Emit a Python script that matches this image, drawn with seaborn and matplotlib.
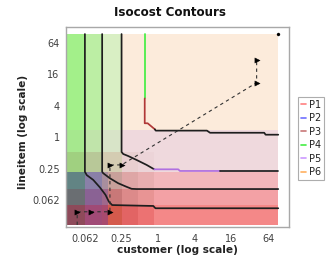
import numpy as np
import matplotlib
matplotlib.use("Agg")
import matplotlib.pyplot as plt
import seaborn as sns
from matplotlib.lines import Line2D
from matplotlib.colors import to_rgb

# ---------------- data ----------------
plans = ["P1", "P2", "P3", "P4", "P5", "P6"]
plan_colors = ["#FF8080", "#6F6FFF", "#C87878", "#44EE44", "#CC99FF", "#FFB060"]

tick_vals = [0.0625, 0.25, 1, 4, 16, 64]
tick_labels = ["0.062", "0.25", "1", "4", "16", "64"]

# background grid (cell edges in data units)
x_edges = [0.0317, 0.0625, 0.12, 0.15, 0.25, 0.46, 0.85, 93.5]
y_edges = [0.0213, 0.051, 0.103, 0.218, 0.525, 1.38, 93.0]
# rows bottom -> top, columns left -> right
cell_colors = [
    ["#8E4A5A", "#A04A76", "#A84A6E", "#D45A4C", "#E26464", "#EC7272", "#F48888"],
    ["#6A6E72", "#8A6294", "#A0688C", "#C87878", "#DC8A8A", "#E89494", "#F3A1A5"],
    ["#628484", "#8A80A8", "#A88E9E", "#C8A09A", "#DEA6A6", "#E8AEB0", "#F2B7BB"],
    ["#A0D080", "#B8C898", "#D4CCB2", "#D4CCB2", "#E8CFD0", "#ECD4D8", "#EFD9DD"],
    ["#A6E88E", "#C0E4AA", "#D8E4C8", "#D8E4C8", "#EFD9DD", "#EFD9DD", "#EFD9DD"],
    ["#A3F08A", "#BCEEA4", "#D9EFC4", "#D9EFC4", "#FCEBDB", "#FCEBDB", "#FCEBDB"],
]

# isocost contours (segments: x, y, colour key)
cA_green_x = [0.60, 0.60]
cA_green_y = [93, 5.5]
cA_red_x = [0.60, 0.60, 0.67, 0.88]
cA_red_y = [5.5, 1.85, 1.85, 1.42]
cA_x = [0.88, 0.91, 6.3, 7.1, 55, 58, 93.5]
cA_y = [1.42, 1.34, 1.34, 1.22, 1.22, 1.12, 1.12]

cB_x = [0.25, 0.25, 0.266, 0.32, 0.44, 0.645, 0.86]
cB_y = [93, 0.525, 0.48, 0.44, 0.37, 0.297, 0.245]
cB_purple_x = [0.86, 2.13, 2.27, 10.3]
cB_purple_y = [0.245, 0.245, 0.228, 0.228]
cB2_x = [10.3, 93.5]
cB2_y = [0.228, 0.228]

cC_x = [0.12, 0.12, 0.125, 0.16, 0.22, 0.30, 0.366, 0.44, 93.5]
cC_y = [93, 0.22, 0.206, 0.166, 0.133, 0.114, 0.104, 0.103, 0.103]

cD_x = [0.0625, 0.0625, 0.067, 0.0856, 0.11, 0.136, 0.155, 0.175, 0.83, 0.90, 93.5]
cD_y = [93, 0.22, 0.19, 0.154, 0.111, 0.080, 0.059, 0.051, 0.049, 0.0443, 0.0443]

# dashed path with arrow markers
path_x = [0.0467, 0.0467, 0.0775, 0.161, 0.161, 0.25, 41.3, 41.3]
path_y = [0.0213, 0.038, 0.038, 0.038, 0.297, 0.297, 11, 29.7]
end_x = [93.5]
end_y = [93.0]

# ---------------- plot ----------------
sns.set_style("white")
plt.rcParams["font.family"] = ["DejaVu Sans"]

fig = plt.figure(figsize=(3.28, 2.60), dpi=100)
ax = fig.add_axes([0.201, 0.128, 0.681, 0.769])
ax.set_xscale("log")
ax.set_yscale("log")

rgb = np.array([[to_rgb(c) for c in row] for row in cell_colors])
ax.pcolormesh(np.array(x_edges), np.array(y_edges), rgb, shading="flat",
              edgecolors="none", linewidth=0, antialiased=False)

def seg(xs, ys, color, lw=1.25):
    sns.lineplot(x=xs, y=ys, sort=False, estimator=None, color=color,
                 linewidth=lw, ax=ax, legend=False)

black = "#1E1E1E"
seg(cA_green_x, cA_green_y, plan_colors[3])
seg(cA_red_x, cA_red_y, "#B03838")
seg(cA_x, cA_y, black)
seg(cB_x, cB_y, black)
seg(cB_purple_x, cB_purple_y, "#B070E0")
seg(cB2_x, cB2_y, black)
seg(cC_x, cC_y, black)
seg(cD_x, cD_y, black)

sns.lineplot(x=path_x, y=path_y, sort=False, estimator=None, color="#333333",
             linewidth=0.8, ax=ax, legend=False)
ax.lines[-1].set_dashes([3, 3])
sns.scatterplot(x=path_x[1:], y=path_y[1:], marker=">", s=14, color="black",
                edgecolor="black", linewidth=0.3, ax=ax, legend=False, zorder=5)
sns.scatterplot(x=end_x, y=end_y, marker="o", s=5, color="black",
                edgecolor="black", ax=ax, legend=False, zorder=5)

ax.set_xlim(0.0305, 142)
ax.set_ylim(0.0197, 128)
ax.set_xticks(tick_vals)
ax.set_xticklabels(tick_labels)
ax.set_yticks(tick_vals)
ax.set_yticklabels(tick_labels)
ax.minorticks_off()
ax.tick_params(axis="both", which="major", length=2, width=0.6, color="#909090",
               labelsize=7, labelcolor="#404040", direction="out", pad=2.5)
ax.tick_params(axis="x", pad=3)
ax.set_xlabel("")
ax.set_ylabel("")
for sp in ax.spines.values():
    sp.set_color("#A8A8A8")
    sp.set_linewidth(1.0)

fig.text(0.517, 0.95, "Isocost Contours", ha="center", va="center",
         fontsize=8.6, fontweight="bold", color="#111111")
fig.text(177.5 / 328, 1 - 250 / 260, "customer (log scale)", ha="center",
         va="center", fontsize=7.6, fontweight="bold", color="#222222")
fig.text(23 / 328, 1 - 131.5 / 260, "lineitem (log scale)", ha="center",
         va="center", rotation=90, fontsize=7.6, fontweight="bold", color="#222222")

handles = [Line2D([0], [0], color=c, lw=1.2) for c in plan_colors]
leg = fig.legend(handles, plans, loc="upper left",
                 bbox_to_anchor=(297.7 / 328, 1 - 96.7 / 260), borderaxespad=0,
                 fontsize=7.0, handlelength=0.55, handletextpad=0.3,
                 labelspacing=0.36, borderpad=0.3, fancybox=False,
                 frameon=True)
leg.get_frame().set_edgecolor("#999999")
leg.get_frame().set_linewidth(0.8)
for t in leg.get_texts():
    t.set_color("#222222")

fig.savefig("out.png", dpi=100)
